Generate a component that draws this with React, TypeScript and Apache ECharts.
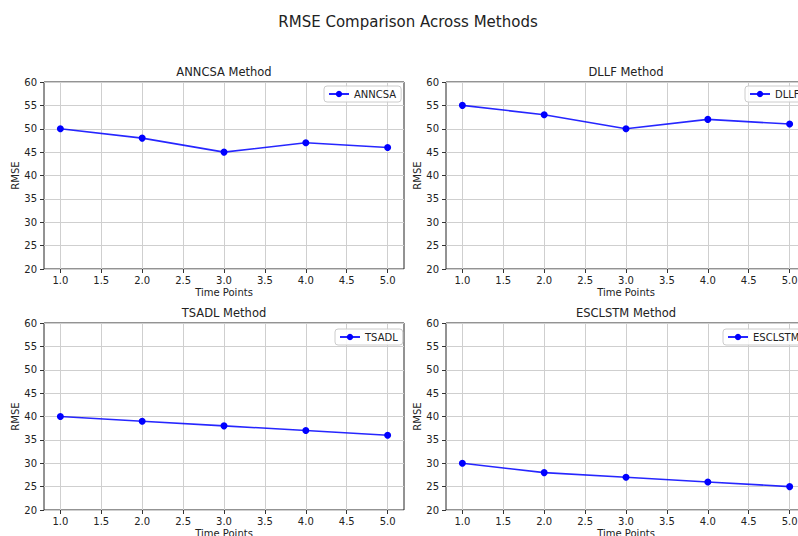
import React, { useEffect, useRef } from "react";
import * as echarts from "echarts";

const timePoints = [1, 2, 3, 4, 5];
const methods = ["ANNCSA", "DLLF", "TSADL", "ESCLSTM"];
const anncsaValues = [50, 48, 45, 47, 46];
const dllfValues = [55, 53, 50, 52, 51];
const tsadlValues = [40, 39, 38, 37, 36];
const esclstmValues = [30, 28, 27, 26, 25];
const xTickValues = [1.0, 1.5, 2.0, 2.5, 3.0, 3.5, 4.0, 4.5, 5.0];
const yTickValues = [20, 25, 30, 35, 40, 45, 50, 55, 60];
const mainTitle = "RMSE Comparison Across Methods";
const xAxisTitle = "Time Points";
const yAxisTitle = "RMSE";

const seriesValues = [anncsaValues, dllfValues, tsadlValues, esclstmValues];

const FONT = "DejaVu Sans";
const grids = [
  { left: 44, top: 82, width: 360, height: 187 },
  { left: 446, top: 82, width: 360, height: 187 },
  { left: 44, top: 323, width: 360, height: 187 },
  { left: 446, top: 323, width: 360, height: 187 },
];
const legendPos = [
  { left: 324, top: 86 },
  { left: 745, top: 86 },
  { left: 335, top: 329 },
  { left: 723, top: 329 },
];

export default function App() {
  const ref = useRef<HTMLDivElement>(null);
  useEffect(() => {
    if (!ref.current) return;
    const chart = echarts.init(ref.current, undefined, { renderer: "svg" });
    const option: any = {
      animation: false,
      backgroundColor: "#ffffff",
      textStyle: { fontFamily: FONT },
      grid: grids.map((g) => ({
        ...g,
        show: true,
        borderColor: "#262626",
        borderWidth: 1,
        backgroundColor: "transparent",
        containLabel: false,
      })),
      xAxis: grids.map((_, i) => ({
        type: "value",
        gridIndex: i,
        min: 0.8,
        max: 5.2,
        name: xAxisTitle,
        nameLocation: "middle",
        nameGap: 18,
        nameTextStyle: { fontFamily: FONT, fontSize: 10, color: "#222" },
        axisLine: { show: false },
        axisTick: {
          show: true,
          length: 4,
          customValues: xTickValues,
          lineStyle: { color: "#333" },
        },
        axisLabel: {
          customValues: xTickValues,
          margin: 6,
          fontFamily: FONT,
          fontSize: 10,
          color: "#222",
          formatter: (v: number) => v.toFixed(1),
        },
        splitLine: { show: true, lineStyle: { color: "#cfcfcf", width: 1 } },
      })),
      yAxis: grids.map((_, i) => ({
        type: "value",
        gridIndex: i,
        min: yTickValues[0],
        max: yTickValues[yTickValues.length - 1],
        interval: 5,
        name: yAxisTitle,
        nameLocation: "middle",
        nameRotate: 90,
        nameGap: 24,
        nameTextStyle: { fontFamily: FONT, fontSize: 10, color: "#222" },
        axisLine: { show: false },
        axisTick: { show: true, length: 4, lineStyle: { color: "#333" } },
        axisLabel: {
          margin: 7,
          fontFamily: FONT,
          fontSize: 10,
          color: "#222",
        },
        splitLine: { show: true, lineStyle: { color: "#cfcfcf", width: 1 } },
      })),
      legend: methods.map((m, i) => ({
        data: [m],
        left: legendPos[i].left,
        top: legendPos[i].top,
        orient: "vertical",
        padding: [3, 5, 3, 4],
        itemWidth: 20,
        itemHeight: 8,
        itemGap: 0,
        backgroundColor: "rgba(255,255,255,0.85)",
        borderColor: "#cccccc",
        borderWidth: 1,
        borderRadius: 3,
        textStyle: { fontFamily: FONT, fontSize: 10, color: "#222" },
      })),
      series: methods.map((m, i) => ({
        name: m,
        type: "line",
        xAxisIndex: i,
        yAxisIndex: i,
        data: timePoints.map((t, j) => [t, seriesValues[i][j]]),
        symbol: "circle",
        symbolSize: 7,
        lineStyle: { color: "#0000ff", width: 1.6, opacity: 0.85 },
        itemStyle: { color: "#0000ff" },
        z: 3,
      })),
      graphic: [
        {
          type: "text",
          x: 408,
          y: 22,
          style: {
            text: mainTitle,
            fontFamily: FONT,
            fontSize: 15,
            fill: "#222",
            textAlign: "center",
            textVerticalAlign: "middle",
          },
        },
        ...methods.map((m, i) => ({
          type: "text",
          x: grids[i].left + grids[i].width / 2,
          y: grids[i].top - 10,
          style: {
            text: `${m} Method`,
            fontFamily: FONT,
            fontSize: 11.5,
            fill: "#222",
            textAlign: "center",
            textVerticalAlign: "middle",
          },
        })),
      ],
    };
    chart.setOption(option);
    return () => chart.dispose();
  }, []);
  return (
    <div
      style={{
        position: "absolute",
        left: 0,
        top: 0,
        width: 798,
        height: 536,
        overflow: "hidden",
        background: "#fff",
      }}
    >
      <div ref={ref} style={{ width: 816, height: 550 }} />
    </div>
  );
}
